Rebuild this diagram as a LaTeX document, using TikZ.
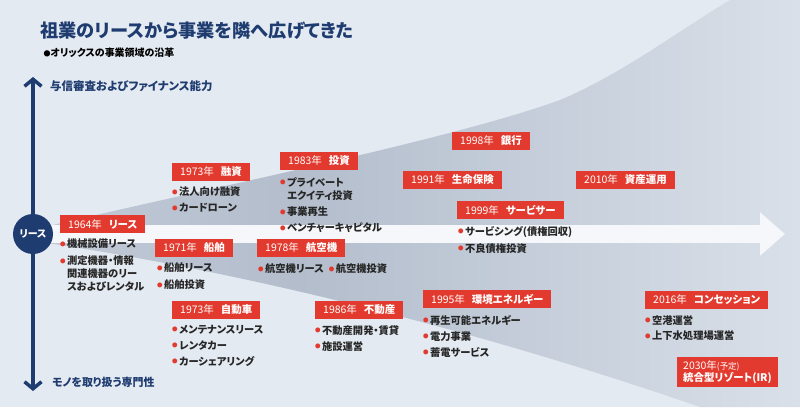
\documentclass[tikz,border=0pt]{standalone}
\usepackage{fontspec}
\setmainfont{Noto Sans CJK JP}[RawFeature=+palt]
\usetikzlibrary{arrows.meta,backgrounds}
\definecolor{orxnavy}{HTML}{1F3C70}
\definecolor{orxred}{HTML}{E23A2E}
\definecolor{bgblue}{HTML}{E4EAF1}
\definecolor{fanleft}{HTML}{C2CAD7}
\definecolor{fanmid}{HTML}{B3BDCC}
\definecolor{fanright}{HTML}{D9E0E9}
\definecolor{arrowwhite}{HTML}{F5F7FA}
\pgfdeclarehorizontalshading{fanshade}{100bp}{color(0bp)=(fanleft); color(25bp)=(fanleft); color(42bp)=(fanmid);
  color(75bp)=(fanright); color(100bp)=(fanright)}
\newcommand{\bul}{\makebox[7bp][l]{\raisebox{1.8bp}{\textcolor{orxred}{\fontsize{5.5}{5.5}\selectfont ●}}}}
\newcommand{\ind}{\hspace*{7bp}}
\newcommand{\yr}[2]{#1年\hspace{7bp}\textbf{#2}}

\begin{document}
\begin{tikzpicture}[x=1bp,y=-1bp,
    yearbox/.style={fill=orxred,text=white,anchor=west,inner xsep=8bp,inner ysep=0bp,minimum height=17.5bp,font=\fontsize{10.5}{12}\selectfont},
    itemlist/.style={anchor=north west,align=left,inner sep=0bp,text=black!85,font=\fontsize{10.3}{13}\selectfont\bfseries}]
  \useasboundingbox (0,0) rectangle (800,407);
  % heading
  \node[anchor=west,inner sep=0bp,text=orxnavy,font=\fontsize{18.3}{20}\selectfont\bfseries] (title) at (40,31) {祖業のリースから事業を隣へ広げてきた};
  \node[anchor=west,font=\fontsize{10}{12}\selectfont\bfseries] (subtitle) at (40,53) {{\fontsize{7}{7}\selectfont ●}オリックスの事業領域の沿革};
  % axis texts
  \node[anchor=west,inner sep=0bp,text=orxnavy,font=\fontsize{11.5}{13}\selectfont\bfseries] (credit) at (50,86) {与信審査およびファイナンス能力};
  \node[anchor=west,inner sep=0bp,text=orxnavy,font=\fontsize{11}{13}\selectfont\bfseries] (goods) at (52,382) {モノを取り扱う専門性};
  \coordinate (axtop) at (33,77);
  \coordinate (axbot) at (33,391);
  \coordinate (tip) at (785,234);
  \node[circle,fill=orxnavy,text=white,minimum size=40bp,inner sep=0bp,font=\fontsize{10}{10}\selectfont\bfseries] (origin) at (33,234) {リース};
  % year labels
  \foreach \n/\x/\y/\txt in {lease/60/224/{\yr{1964}{リース}}, loan/172/172/{\yr{1973}{融資}},
      invest/280/161/{\yr{1983}{投資}}, ship/155/248/{\yr{1971}{船舶}}, air/257/248/{\yr{1978}{航空機}},
      car/172/310/{\yr{1973}{自動車}}, estate/315/310/{\yr{1986}{不動産}}, energy/423/299/{\yr{1995}{環境エネルギー}},
      bank/452/141/{\yr{1998}{銀行}}, life/403/180/{\yr{1991}{生命保険}}, asset/576/180/{\yr{2010}{資産運用}},
      servicer/457/210/{\yr{1999}{サービサー}}, concession/645/300/{\yr{2016}{コンセッション}}}
    \node[yearbox] (\n) at (\x,\y) {\txt};
  \node[yearbox,align=left,inner xsep=6bp,minimum height=30bp,inner ysep=2bp] (resort) at (677,372) {2030年{\fontsize{8.5}{8.5}\selectfont(予定)}\\\textbf{統合型リゾート(IR)}};
  % business lines
  \foreach \n/\x/\y/\txt in {
      ilease/60/239/{\bul 機械設備リース\\[4bp]\bul 測定機器・情報\\\ind 関連機器のリー\\\ind スおよびレンタル},
      iloan/172/187/{\bul 法人向け融資\\[3bp]\bul カードローン},
      iinvest/280/177/{\bul プライベート\\\ind エクイティ投資\\[4bp]\bul 事業再生\\[3bp]\bul ベンチャーキャピタル},
      iship/157/263/{\bul 船舶リース\\[4bp]\bul 船舶投資},
      iair/258/264/{\bul 航空機リース\hspace{5bp}\bul 航空機投資},
      icar/172/325/{\bul メンテナンスリース\\[3bp]\bul レンタカー\\[3bp]\bul カーシェアリング},
      iestate/315/325/{\bul 不動産開発・賃貸\\[3bp]\bul 施設運営},
      ienergy/423/315/{\bul 再生可能エネルギー\\[3bp]\bul 電力事業\\[3bp]\bul 蓄電サービス},
      iservicer/458/226/{\bul サービシング(債権回収)\\[4bp]\bul 不良債権投資},
      iconcession/645/315/{\bul 空港運営\\[3bp]\bul 上下水処理場運営}}
    \node[itemlist] (\n) at (\x,\y) {\txt};
  \begin{scope}[on background layer]
    \fill[bgblue] (0,0) rectangle (800,407);
    % widening field
    \shade[shading=fanshade] (40,228) .. controls (200,190) and (450,140) .. (560,100)
      .. controls (620,75) and (680,30) .. (730,0) -- (800,0) -- (800,407) -- (700,407)
      .. controls (550,355) and (300,280) .. (40,242) -- cycle;
    \draw[orxnavy,line width=3.5bp,{Straight Barb[length=7bp,width=17bp]}-{Straight Barb[length=7bp,width=17bp]}] (axbot) -- (axtop);
    \draw[arrowwhite,line width=18bp,-{Triangle[length=25bp,width=42bp]}] (origin.center) -- (tip);
  \end{scope}
\end{tikzpicture}
\end{document}
